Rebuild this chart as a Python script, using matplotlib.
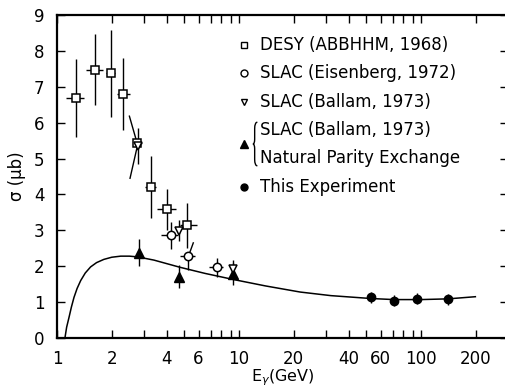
import numpy as np
import matplotlib
matplotlib.use('Agg')
import matplotlib.pyplot as plt
from matplotlib.path import Path
from matplotlib.patches import PathPatch

plt.rcParams['font.family'] = ['DejaVu Sans']
plt.rcParams['mathtext.fontset'] = 'dejavusans'

# DESY (ABBHHM, 1968) - open squares
desy_x = [1.27, 1.61, 1.97, 2.31, 2.74, 3.27, 4.04, 5.16]
desy_y = [6.69, 7.48, 7.37, 6.79, 5.42, 4.21, 3.58, 3.14]
desy_yerr = [1.08, 1.0, 1.2, 1.0, 0.0, 0.86, 0.58, 0.62]
desy_xlo = [1.12, 1.44, 1.85, 2.13, 2.64, 3.04, 3.55, 4.74]
desy_xhi = [1.41, 1.80, 2.08, 2.52, 2.94, 3.50, 4.53, 5.85]

# SLAC (Eisenberg, 1972) - open circles
eis_x = [4.22, 5.25, 7.54]
eis_y = [2.86, 2.28, 1.97]
eis_ylo = [0.38, 0.39, 0.27]
eis_yhi = [0.38, 0.0, 0.27]
eis_xlo = [3.72, 4.74, 6.87]
eis_xhi = [4.63, 5.73, 8.19]

# SLAC (Ballam, 1973) - open inverted triangles
bal_x = [2.80, 4.70, 9.3]
bal_y = [5.35, 2.99, 1.92]
bal_err = [0.49, 0.29, 0.25]

# SLAC (Ballam, 1973) natural parity exchange - filled triangles
npe_x = [2.81, 4.68, 9.3]
npe_y = [2.38, 1.71, 1.78]
npe_err = [0.38, 0.33, 0.30]

# This experiment - filled circles
exp_x = [53, 71, 95, 141]
exp_y = [1.13, 1.04, 1.09, 1.08]
exp_err = [0.16, 0.15, 0.15, 0.15]

# slanted error segments
slant1_x = [2.50, 2.76]
slant1_y = [6.18, 5.42]
slant2_x = [2.52, 2.76]
slant2_y = [4.45, 5.33]
slant3_x = [5.26, 5.61]
slant3_y = [2.26, 2.65]

# theory curve
curve_x = [1.106, 1.13, 1.164, 1.20, 1.24, 1.29, 1.35, 1.43, 1.53, 1.65, 1.81, 2.0, 2.24, 2.5, 2.77,
           3.41, 4.74, 6.5, 9.3, 14.0, 21.7, 32.0, 53, 71, 100, 141, 199]
curve_y = [0.0, 0.30, 0.57, 0.86, 1.13, 1.38, 1.60, 1.81, 1.98, 2.10, 2.19, 2.25, 2.28, 2.28, 2.26,
           2.17, 1.97, 1.80, 1.63, 1.45, 1.28, 1.18, 1.10, 1.07, 1.07, 1.09, 1.15]

xticks = [1, 2, 4, 6, 10, 20, 40, 60, 100, 200]
xminor = [3, 5, 7, 8, 9, 30, 50, 70, 80, 90]

fig = plt.figure(figsize=(5.06, 3.92), dpi=100)
ax = fig.add_axes([0.1126, 0.1378, 0.892, 0.824])

ax.plot(curve_x, curve_y, color='black', lw=1.1)

ax.errorbar(desy_x, desy_y, yerr=desy_yerr,
            xerr=[np.array(desy_x) - np.array(desy_xlo), np.array(desy_xhi) - np.array(desy_x)],
            fmt='s', mfc='white', mec='black', ms=6, mew=1.1, ecolor='black', elinewidth=1, capsize=0)
ax.errorbar(eis_x, eis_y, yerr=[eis_ylo, eis_yhi],
            xerr=[np.array(eis_x) - np.array(eis_xlo), np.array(eis_xhi) - np.array(eis_x)],
            fmt='o', mfc='white', mec='black', ms=6, mew=1.1, ecolor='black', elinewidth=1, capsize=0)
ax.errorbar(npe_x, npe_y, yerr=npe_err, fmt='^', mfc='black', mec='black', ms=7,
            ecolor='black', elinewidth=1, capsize=0)
ax.errorbar(bal_x, bal_y, yerr=bal_err, fmt='v', mfc='white', mec='black', ms=6, mew=1.1,
            ecolor='black', elinewidth=1, capsize=0)
ax.errorbar(exp_x, exp_y, yerr=exp_err, fmt='o', mfc='black', mec='black', ms=6,
            ecolor='black', elinewidth=1, capsize=0)

for sx, sy in [(slant1_x, slant1_y), (slant2_x, slant2_y), (slant3_x, slant3_y)]:
    ax.plot(sx, sy, color='black', lw=1)

ax.set_xscale('log')
ax.set_xlim(1, 302)
ax.set_ylim(0, 9)
ax.set_xticks(xticks)
ax.set_xticklabels([str(t) for t in xticks])
ax.set_xticks(xminor, minor=True)
ax.set_xticklabels([], minor=True)
ax.set_yticks(range(0, 10))
ax.tick_params(which='both', direction='in', length=6, width=1, top=True, right=True,
               labelsize=12, pad=9)
for s in ax.spines.values():
    s.set_linewidth(1.6)

ax.set_xlabel('E$_{\\gamma}$(GeV)', fontsize=11.5, labelpad=-1)
ax.set_ylabel('σ (μb)', fontsize=12, labelpad=6)

# legend drawn by hand
leg_labels = ['DESY (ABBHHM, 1968)', 'SLAC (Eisenberg, 1972)', 'SLAC (Ballam, 1973)',
              'SLAC (Ballam, 1973)', 'Natural Parity Exchange', 'This Experiment']
leg_rows = [0.907, 0.820, 0.732, 0.644, 0.557, 0.467]
for lab, yy in zip(leg_labels, leg_rows):
    ax.text(0.450, yy, lab, transform=ax.transAxes, fontsize=12, va='center', ha='left')
ax.plot([0.414], [0.907], 's', mfc='white', mec='black', ms=5, mew=1, transform=ax.transAxes)
ax.plot([0.414], [0.820], 'o', mfc='white', mec='black', ms=5, mew=1, transform=ax.transAxes)
ax.plot([0.414], [0.732], 'v', mfc='white', mec='black', ms=5, mew=1, transform=ax.transAxes)
ax.plot([0.414], [0.600], '^', mfc='black', mec='black', ms=6, transform=ax.transAxes)
ax.plot([0.414], [0.467], 'o', mfc='black', mec='black', ms=5, transform=ax.transAxes)

# brace
bx, bw = 0.434, 0.010
yt, yb = 0.668, 0.533
ym = (yt + yb) / 2
verts = [(bx + bw, yt), (bx + bw * 0.4, yt), (bx + bw * 0.4, yt - 0.02),
         (bx + bw * 0.4, ym + 0.015),
         (bx + bw * 0.4, ym), (bx, ym),
         (bx + bw * 0.4, ym), (bx + bw * 0.4, ym - 0.015),
         (bx + bw * 0.4, yb + 0.02),
         (bx + bw * 0.4, yb), (bx + bw, yb)]
codes = [Path.MOVETO, Path.CURVE3, Path.CURVE3, Path.LINETO, Path.CURVE3, Path.CURVE3,
         Path.CURVE3, Path.CURVE3, Path.LINETO, Path.CURVE3, Path.CURVE3]
ax.add_patch(PathPatch(Path(verts, codes), transform=ax.transAxes, fc='none', ec='black', lw=1))

fig.savefig('out.png', dpi=100)
